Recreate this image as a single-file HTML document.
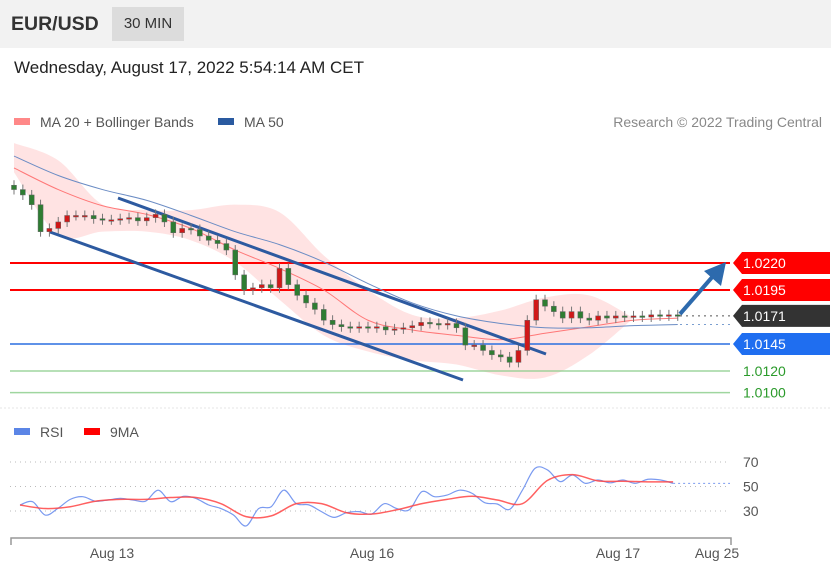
<!DOCTYPE html>
<html><head><meta charset="utf-8">
<style>
body{margin:0;width:831px;height:569px;overflow:hidden;background:#fff;font-family:"Liberation Sans",sans-serif;position:relative}
.hdr{position:absolute;left:0;top:0;width:831px;height:48px;background:#f2f2f2}
.sym{position:absolute;left:11px;top:13px;font-size:19.5px;font-weight:bold;color:#333}
.tf{position:absolute;left:112px;top:7px;width:72px;height:34px;background:#dcdcdc;font-size:15px;color:#333;line-height:34px;text-align:center}
.date{position:absolute;left:14px;top:58px;font-size:17px;color:#222}
svg{position:absolute;left:0;top:0}
</style></head><body>
<div class="hdr"></div>
<div class="sym">EUR/USD</div>
<div class="tf">30 MIN</div>
<div class="date">Wednesday, August 17, 2022 5:54:14 AM CET</div>
<svg id="chart" width="831" height="569"></svg>
<script>
const closes=[1.0288,1.0283,1.0274,1.0249,1.0252,1.0258,1.0264,1.0264,1.0264,1.0261,1.0260,1.0260,1.0261,1.0262,1.0259,1.0262,1.0265,1.0258,1.0248,1.0252,1.0251,1.0245,1.0241,1.0238,1.0232,1.0209,1.0195,1.0197,1.0200,1.0197,1.0215,1.0200,1.0190,1.0183,1.0177,1.0167,1.0163,1.0161,1.0160,1.0161,1.0160,1.0161,1.0158,1.0159,1.0160,1.0162,1.0165,1.0164,1.0163,1.0164,1.0160,1.0144,1.0144,1.0139,1.0135,1.0133,1.0128,1.0139,1.0167,1.0186,1.0180,1.0175,1.0169,1.0175,1.0169,1.0167,1.0171,1.0169,1.0171,1.0170,1.0171,1.0170,1.0172,1.0171,1.0172,1.0171];
const ma20=[1.0308,1.0288,1.0273,1.0265,1.0252,1.0232,1.0215,1.0195,1.0167,1.0158,1.0153,1.0149,1.0155,1.0161,1.0167,1.0169];
const ma50=[1.0319,1.0301,1.0288,1.0278,1.0264,1.0249,1.0237,1.0221,1.0201,1.0183,1.0171,1.0164,1.0160,1.0160,1.0162,1.0163];
const bbUpper=[1.0331,1.0315,1.0274,1.0269,1.0269,1.0274,1.0267,1.0227,1.0195,1.0172,1.0169,1.0176,1.0188,1.0190,1.0169];
const bbLower=[1.0304,1.0246,1.0249,1.0249,1.0241,1.0221,1.0186,1.0153,1.0138,1.0130,1.0126,1.0116,1.0114,1.0135,1.0169];
const levels=[1.0220,1.0195,1.0171,1.0145,1.0120,1.0100];
const levelLabels=["1.0220","1.0195","1.0171","1.0145","1.0120","1.0100"];
const rsi=[34.9,37.6,26.7,32,39.5,41.7,38,39,40.3,39,38,47,37.6,42,40.3,35,32,26.7,17.8,32,33.5,47,36,35,29.5,24.8,28.6,29.5,27.5,36,32,31,45.8,41.7,43,47,44.4,36.8,35.7,31.4,47,64.8,63.5,54,59.4,52.6,55.3,53,55.3,52.6,55.9,55.3,52.6];
const rsiMa=[34.9,32,33.5,38,39.5,39.5,41,41,36,25.4,26,36,36,28.6,27.5,31,36,39.5,42,39,36,55,59.7,54.6,54.3,53.8,53.8];
const rsiTicks=[70,50,30];
const dateLabels=["Aug 13","Aug 16","Aug 17","Aug 25"];
const datePos=[112,372,618,717];

const svg=document.getElementById('chart');const NS='http://www.w3.org/2000/svg';
function mk(t,a,parent){const e=document.createElementNS(NS,t);for(const k in a)e.setAttribute(k,a[k]);(parent||svg).appendChild(e);return e;}
const py=p=>263+(1.0220-p)*10800;
const cx=i=>14+i*8.85;
const sx=k=>cx(k*5);
const ry=v=>511-(v-30)*1.225;
const rx=k=>20+k*12.56;
function smooth(pts){let d='M'+pts[0][0]+','+pts[0][1];for(let i=1;i<pts.length;i++){const p0=pts[Math.max(i-2,0)],p1=pts[i-1],p2=pts[i],p3=pts[Math.min(i+1,pts.length-1)];
 d+=`C${p1[0]+(p2[0]-p0[0])/6},${p1[1]+(p2[1]-p0[1])/6} ${p2[0]-(p3[0]-p1[0])/6},${p2[1]-(p3[1]-p1[1])/6} ${p2[0]},${p2[1]}`;}return d;}

let e=mk('rect',{x:14,y:118,width:16,height:7,fill:'#f88'});

e=mk('text',{x:40,y:127,'font-size':14,fill:'#555'});e.textContent='MA 20 + Bollinger Bands';

e=mk('rect',{x:218,y:118,width:16,height:7,fill:'#2a5aa0'});

e=mk('text',{x:244,y:127,'font-size':14,fill:'#555'});e.textContent='MA 50';

e=mk('text',{x:822,y:127,'font-size':14,fill:'#888','text-anchor':'end'});e.textContent='Research © 2022 Trading Central';


// bands
const up=bbUpper.map((v,k)=>[sx(k),py(v)]);
const lo=bbLower.map((v,k)=>[sx(k),py(v)]).reverse();
let d=smooth(up)+smooth(lo).replace('M','L')+'Z';
e=mk('path',{d:d,fill:'#ffdede',opacity:0.85});


const lvlColors=['#f00','#f00',null,'#2a6fe0','#8c8','#8c8'];
levels.forEach((p,i)=>{
  const y=py(p);
  if(i===2){e=mk('line',{x1:680,x2:730,y1:y,y2:y,stroke:'#555','stroke-dasharray':'2,4'});}
  else{e=mk('line',{x1:10,x2:730,y1:y,y2:y,stroke:lvlColors[i],'stroke-width':i<2?2:1.5,opacity:i>3?0.8:1});}
  
  const bg=['#f00','#f00','#333','#1f6ef0',null,null][i];
  if(bg){e=mk('path',{d:`M733,${y}L742,${y-11}H830V${y+11}H742Z`,fill:bg});
    }
  e=mk('text',{x:743,y:y+5,'font-size':14,fill:bg?'#fff':'#2a9a2a'});e.textContent=levelLabels[i];
  
});
e=mk('line',{x1:680,x2:730,y1:py(ma50[ma50.length-1]),y2:py(ma50[ma50.length-1]),stroke:'#7a9ed0','stroke-dasharray':'2,4'});


function line(arr,xf,yf,attrs,name){const l=mk('path',Object.assign({d:smooth(arr.map((v,k)=>[xf(k),yf(v)])),fill:'none'},attrs));return l;}
line(ma20,sx,py,{stroke:'#f77','stroke-width':1},'ma20-line');
line(ma50,sx,py,{stroke:'#6b8cc4','stroke-width':1},'ma50-line');

e=mk('line',{x1:118,y1:198,x2:546,y2:354,stroke:'#2d5aa0','stroke-width':3});

e=mk('line',{x1:50,y1:232,x2:463,y2:380,stroke:'#2d5aa0','stroke-width':3});

e=mk('line',{x1:680,y1:314,x2:714,y2:275,stroke:'#2d6aad','stroke-width':4});

e=mk('path',{d:'M726,262L721,286L704,271Z',fill:'#2d6aad'});


closes.forEach((c,i)=>{
  const o=i?closes[i-1]:c+0.0004;const x=cx(i);
  const top=py(Math.max(o,c)),bot=py(Math.min(o,c));
  const w=mk('line',{x1:x,x2:x,y1:top-5,y2:bot+5,stroke:'#777','stroke-width':1});
  
  const b=mk('rect',{x:x-2.5,y:top,width:5,height:Math.max(bot-top,1.5),fill:c>=o?'#d01818':'#2e7d32',stroke:'#666','stroke-width':0.5});
  
});

e=mk('line',{x1:0,x2:831,y1:408,y2:408,stroke:'#e4e4e4','stroke-dasharray':'2,2'});


e=mk('rect',{x:14,y:428,width:16,height:7,fill:'#5b85e6'});

e=mk('text',{x:40,y:437,'font-size':14,fill:'#555'});e.textContent='RSI';

e=mk('rect',{x:84,y:428,width:16,height:7,fill:'#f00'});

e=mk('text',{x:110,y:437,'font-size':14,fill:'#555'});e.textContent='9MA';


rsiTicks.forEach(t=>{
  const y=ry(t);
  e=mk('line',{x1:10,x2:730,y1:y,y2:y,stroke:'#bbb','stroke-dasharray':'1,4'});
  
  e=mk('text',{x:743,y:y+5,'font-size':14,fill:'#555'});e.textContent=t;
  
});
line(rsi,rx,ry,{stroke:'#7a9af0','stroke-width':1.2},'rsi-line');
line(rsiMa,k=>rx(k*2),ry,{stroke:'#f44','stroke-width':1.5,opacity:0.85},'rsi-9ma-line');
e=mk('line',{x1:rx(rsi.length-1),x2:730,y1:ry(rsi[rsi.length-1]),y2:ry(rsi[rsi.length-1]),stroke:'#7a9af0','stroke-dasharray':'2,3'});


e=mk('path',{d:'M11,545V538H731V545',fill:'none',stroke:'#999','stroke-width':1.5});

dateLabels.forEach((l,i)=>{
  e=mk('text',{x:datePos[i],y:558,'font-size':14,fill:'#555','text-anchor':'middle'});e.textContent=l;
  
});
</script>
</body></html>
